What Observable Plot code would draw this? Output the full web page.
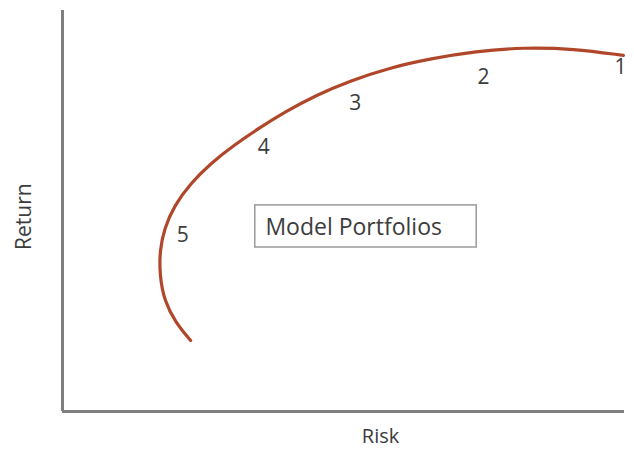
<!DOCTYPE html>
<html>
<head>
<meta charset="utf-8">
<script src="https://cdn.jsdelivr.net/npm/d3@7"></script>
<script src="https://cdn.jsdelivr.net/npm/@observablehq/plot@0.6"></script>
<style>
  html, body { margin: 0; padding: 0; background: #fff; }
  #chart svg { display: block; }
</style>
</head>
<body>
<div id="chart"></div>
<script>
// Efficient frontier curve (risk, return) in arbitrary 0–100 units
const curveRisk   = [22.8, 20.1, 18.1, 17.3, 17.3, 18.1, 19.9, 22.8, 26.3, 30.4, 34.9, 39.7, 45.0, 51.2, 58.4, 65.5, 73.5, 82.0, 90.9, 99.8];
const curveReturn = [17.7, 22.2, 27.7, 33.9, 40.1, 45.6, 51.4, 56.9, 61.8, 66.3, 70.6, 74.8, 78.8, 82.5, 85.8, 88.0, 89.8, 90.8, 90.5, 88.8];

// Model portfolio labels
const portfolioNames  = ["1", "2", "3", "4", "5"];
const portfolioRisk   = [99.3, 74.9, 52.1, 35.8, 21.4];
const portfolioReturn = [85.8, 83.3, 76.8, 65.8, 43.9];

// Legend box
const boxLabel = "Model Portfolios";
const boxX = [34.3, 73.7];
const boxY = [40.9, 51.4];
const boxTextPos = [36.1, 45.9];

// Axis titles
const xTitle = "Risk";
const yTitle = "Return";
const xTitlePos = 56.6;
const yTitlePos = 48.6;

const curve = curveRisk.map((r, i) => ({risk: r, ret: curveReturn[i]}));
const portfolios = portfolioNames.map((n, i) => ({name: n, risk: portfolioRisk[i], ret: portfolioReturn[i]}));

const font = "'Open Sans', sans-serif";
const textColor = "#3c3c3c";
const axisColor = "#7f7f7f";

const chart = Plot.plot({
  width: 634,
  height: 449,
  marginLeft: 62,
  marginRight: 10,
  marginTop: 10,
  marginBottom: 38,
  style: {fontFamily: font, background: "#fff"},
  x: {domain: [0, 100], axis: null},
  y: {domain: [0, 100], axis: null},
  marks: [
    Plot.ruleX([0], {stroke: axisColor, strokeWidth: 3}),
    Plot.ruleY([0], {stroke: axisColor, strokeWidth: 3}),
    Plot.line(curve, {x: "risk", y: "ret", curve: "basis", stroke: "#b0472a", strokeWidth: 3.2, strokeLinecap: "round"}),
    Plot.text(portfolios, {x: "risk", y: "ret", text: "name", fill: textColor, fontSize: 21}),
    Plot.rect([{x1: boxX[0], x2: boxX[1], y1: boxY[0], y2: boxY[1]}], {x1: "x1", x2: "x2", y1: "y1", y2: "y2", fill: "#fff", stroke: "#9a9a9a", strokeWidth: 1.5}),
    Plot.text([boxLabel], {x: boxTextPos[0], y: boxTextPos[1], text: d => d, textAnchor: "start", fill: textColor, fontSize: 23}),
    Plot.text([xTitle], {x: xTitlePos, y: 0, text: d => d, dy: 25, fill: textColor, fontSize: 20}),
    Plot.text([yTitle], {x: 0, y: yTitlePos, text: d => d, dx: -38, rotate: -90, fill: textColor, fontSize: 21})
  ]
});
document.getElementById("chart").append(chart);
</script>
</body>
</html>
